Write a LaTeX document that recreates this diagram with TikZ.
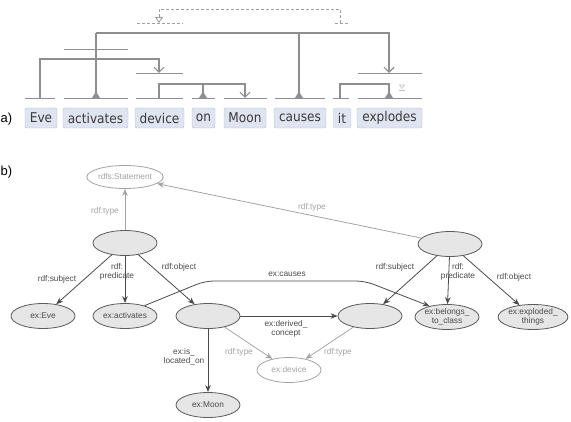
\documentclass[tikz,border=0pt]{standalone}
\usepackage{fontspec}
\setmainfont{Liberation Sans}
\newfontfamily\wordfont[FakeStretch=0.9]{DejaVu Sans}
\usetikzlibrary{arrows.meta,shapes.geometric}
\definecolor{wfill}{HTML}{DFE4F1}
\definecolor{wbord}{HTML}{B3BCD3}
\definecolor{wtext}{HTML}{3A3A3A}
\definecolor{lcol}{HTML}{8E8E8E}
\definecolor{dcol}{HTML}{A0A0A0}
\definecolor{ecol}{HTML}{4A4A4A}
\definecolor{gcol}{HTML}{A3A3A3}
\definecolor{nfill}{HTML}{E6E6E6}
\definecolor{nbord}{HTML}{5A5A5A}
\tikzset{
  word/.style={draw=wbord, fill=wfill, rounded corners=2pt, minimum height=20pt,
    inner sep=0pt, text=wtext, font=\wordfont\fontsize{13.5}{14}\selectfont},
  tline/.style={draw=lcol, line width=1.1pt},
  dline/.style={draw=dcol, line width=0.8pt, densely dashed},
  vtip/.style={-{Straight Barb[length=5pt,width=10pt,line width=1.1pt]}},
  tri/.pic={\fill[lcol] (-4,0)--(0,-6.5)--(4,0)--cycle;},
  rnode/.style={ellipse, draw=nbord, fill=nfill, line width=0.8pt, minimum width=64pt,
    minimum height=25pt, inner sep=0pt, text=ecol, align=center,
    font=\fontsize{8.3}{9}\selectfont},
  lnode/.style={rnode, draw=gcol, fill=white, text=gcol},
  edge/.style={draw=ecol, line width=0.8pt, -{Stealth[length=7pt,width=5.5pt]}},
  gedge/.style={draw=gcol, line width=0.8pt, -{Stealth[length=7pt,width=5.5pt]}},
  lab/.style={inner sep=1pt, text=ecol, align=center, font=\fontsize{8.3}{9.3}\selectfont},
  glab/.style={lab, text=gcol},
  part/.style={inner sep=0pt, anchor=west, text=black, font=\fontsize{13}{14}\selectfont}
}
\begin{document}
\begin{tikzpicture}[x=1pt,y=-1pt]
\useasboundingbox (0,0) rectangle (571,422);
% ---------- (a) ----------
\node[part] (pa) at (0.5,119) {a)};
\node[word, minimum width=32pt] (w1) at (41,118) {Eve};
\node[word, minimum width=65pt] (w2) at (95.5,118) {activates};
\node[word, minimum width=49pt] (w3) at (159.5,118) {device};
\node[word, minimum width=23pt] (w4) at (203.5,118) {on};
\node[word, minimum width=42pt] (w5) at (245,118) {Moon};
\node[word, minimum width=52pt] (w6) at (300,118) {causes};
\node[word, minimum width=18pt, dashed, dash pattern=on 1.5pt off 1.5pt] (w7) at (342,118) {it};
\node[word, minimum width=65pt] (w8) at (389.5,118) {explodes};
% base bars
\foreach \a/\b in {25/55, 64/128, 136/183, 192/215, 224/267, 275/325, 333/349, 358/422}
  \draw[draw=lcol, line width=0.9pt] (\a,98) -- (\b,98);
% upper bars
\draw[draw=lcol, line width=0.9pt] (64,49) -- (128,49);
\draw[draw=lcol, line width=0.9pt] (136,73) -- (183,73);
\draw[draw=lcol, line width=0.9pt] (358,73) -- (422,73);
% dashed bars
\draw[dline] (137,23) -- (183,23);
\draw[dline] (335,23) -- (349,23);
% links
\draw[tline, vtip] (40,98) -- (40,59) -- (159,59) -- (159,73);
\draw[tline] (96,98) -- (96,33);
\pic at (96,98) {tri};
\draw[tline, vtip] (96,33) -- (389,33) -- (389,73);
\draw[tline] (299,98) -- (299,33);
\pic at (299,98) {tri};
\draw[tline, vtip] (159,98) -- (159,84) -- (245,84) -- (245,98);
\draw[tline] (203,84) -- (203,98);
\pic at (203,98) {tri};
\draw[tline] (340,98) -- (340,84) -- (389,84) -- (389,98);
\pic at (389,98) {tri};
\draw[dline, -{Triangle[open,length=6pt,width=8pt,line width=0.9pt]}] (340,23) -- (340,9) -- (159,9) -- (159,23);
% tiny symbol
\draw[draw=gray!50, line width=0.6pt] (399,90.5) -- (405,90.5);
\draw[draw=gray!50, line width=0.6pt] (399.5,85) -- (404.5,85) -- (402,88.5) -- cycle;
% ---------- (b) ----------
\node[part] (pb) at (0.5,172) {b)};
\node[lnode, minimum height=23pt] (stmt) at (125,177) {rdfs:Statement};
\node[rnode] (s1) at (125,243) {};
\node[rnode] (s2) at (450,244) {};
\node[rnode] (eve) at (43,316) {ex:Eve};
\node[rnode] (act) at (125,316) {ex:activates};
\node[rnode] (b3) at (208,316) {};
\node[rnode] (b4) at (370,316) {};
\node[rnode] (bel) at (447,317) {ex:belongs\_\\to\_class};
\node[rnode] (expl) at (533,317) {ex:exploded\_\\things};
\node[lnode] (dev) at (289,370) {ex:device};
\node[rnode] (moon) at (208,405) {ex:Moon};

\draw[gedge] (s1) -- (stmt);
\draw[gedge] (s2) -- (stmt);
\draw[edge] (s1) -- (eve);
\draw[edge] (s1) -- (act);
\draw[edge] (s1) -- (b3);
\draw[edge] (b3) -- (b4);
\draw[edge] (b3) -- (moon);
\draw[gedge] (b3) -- (dev);
\draw[gedge] (b4) -- (dev);
\draw[edge] (s2) -- (b4);
\draw[edge] (s2) -- (bel);
\draw[edge] (s2) -- (expl);
\draw[edge, rounded corners=9pt] (act.28) -- (205,281) -- (365,281) -- (bel.148);

\node[glab] (l1) at (105,211) {rdf:type};
\node[glab] (l2) at (312,207) {rdf:type};
\node[lab] (l3) at (57,279) {rdf:subject};
\node[lab] (l4) at (117,272) {rdf:\\predicate};
\node[lab] (l5) at (179,267) {rdf:object};
\node[lab] (l6) at (287,274) {ex:causes};
\node[lab] (l7) at (286,329) {ex:derived\_\\concept};
\node[lab] (l8) at (184,357) {ex:is\_\\located\_on};
\node[glab] (l9) at (239,352) {rdf:type};
\node[glab] (l10) at (338,352) {rdf:type};
\node[lab] (l11) at (395,267) {rdf:subject};
\node[lab] (l12) at (458,272) {rdf:\\predicate};
\node[lab] (l13) at (514,277) {rdf:object};
\end{tikzpicture}
\end{document}
